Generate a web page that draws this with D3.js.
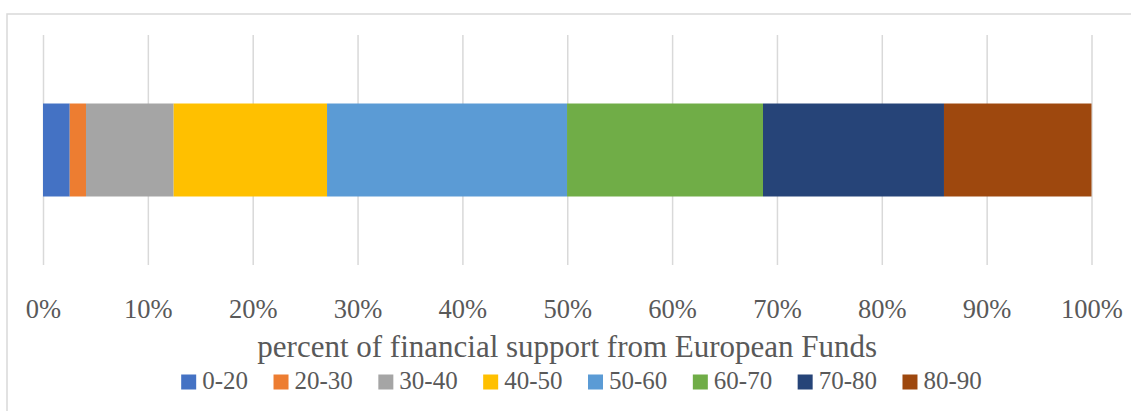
<!DOCTYPE html>
<html>
<head>
<meta charset="utf-8">
<script src="https://cdn.jsdelivr.net/npm/d3@7"></script>
<style>
  html, body { margin: 0; padding: 0; background: #fff; }
  svg text { font-family: "Liberation Serif", serif; fill: #595959; }
</style>
</head>
<body>
<svg id="chart" width="1131" height="411"></svg>
<script>
// share of projects by percent of financial support
const ranges = ["0-20", "20-30", "30-40", "40-50", "50-60", "60-70", "70-80", "80-90"];
const shares = [2.55, 1.55, 8.36, 14.63, 22.89, 18.69, 17.26, 14.07];
const colors = ["#4472C4", "#ED7D31", "#A5A5A5", "#FFC000", "#5B9BD5", "#70AD47", "#264478", "#9E480E"];
const tickValues = [0, 0.1, 0.2, 0.3, 0.4, 0.5, 0.6, 0.7, 0.8, 0.9, 1];
const axisTitle = "percent of financial support from European Funds";

const svg = d3.select("#chart");
const plotLeft = 43, plotRight = 1091.5, plotTop = 35, plotBottom = 265;
const serif = '"Liberation Serif", serif';

// outer chart border
svg.append("rect")
  .attr("x", 7).attr("y", 14)
  .attr("width", 1130).attr("height", 420)
  .attr("fill", "none")
  .attr("stroke", "#d9d9d9")
  .attr("stroke-width", 1.5);

const x = d3.scaleLinear().domain([0, 1]).range([plotLeft, plotRight]);
const y = d3.scaleBand().domain(["all"]).range([plotTop, plotBottom]).padding(0.4242);

// gridlines + tick labels
const axis = svg.append("g")
  .attr("transform", "translate(0," + plotBottom + ")")
  .call(d3.axisBottom(x).tickValues(tickValues).tickFormat(d3.format(".0%")).tickSize(-(plotBottom - plotTop)))
  .attr("font-family", serif);
axis.select(".domain").remove();
axis.selectAll(".tick line").attr("stroke", "#d9d9d9").attr("stroke-width", 1.5);
axis.selectAll(".tick text")
  .attr("y", 52.5).attr("dy", 0)
  .style("font-family", serif)
  .style("font-size", "26.5px")
  .attr("fill", "#595959");

// stacked bar
const row = { cat: "all" };
ranges.forEach((r, i) => row[r] = shares[i]);
const series = d3.stack().keys(ranges).offset(d3.stackOffsetExpand)([row]);

svg.append("g").selectAll("rect")
  .data(series)
  .enter()
  .append("rect")
  .attr("x", d => x(d[0][0]))
  .attr("y", y("all"))
  .attr("width", d => x(d[0][1]) - x(d[0][0]))
  .attr("height", y.bandwidth())
  .attr("fill", (d, i) => colors[i]);

// axis title
svg.append("text")
  .attr("x", (plotLeft + plotRight) / 2)
  .attr("y", 356.5)
  .attr("text-anchor", "middle")
  .style("font-family", serif)
  .style("font-size", "31px")
  .text(axisTitle);

// legend
const legend = svg.append("g");
const items = legend.selectAll("g").data(ranges).enter().append("g");
items.append("rect")
  .attr("width", 15).attr("height", 15)
  .attr("y", 374.5)
  .attr("fill", (d, i) => colors[i]);
items.append("text")
  .attr("x", 21)
  .attr("y", 389)
  .style("font-family", serif)
  .style("font-size", "25px")
  .text(d => d);

let cx = 0;
items.each(function () {
  d3.select(this).attr("transform", "translate(" + cx + ",0)");
  cx += this.getBBox().width + 25.5;
});
const legendWidth = cx - 25.5;
legend.attr("transform", "translate(" + (581.5 - legendWidth / 2) + ",0)");
</script>
</body>
</html>
